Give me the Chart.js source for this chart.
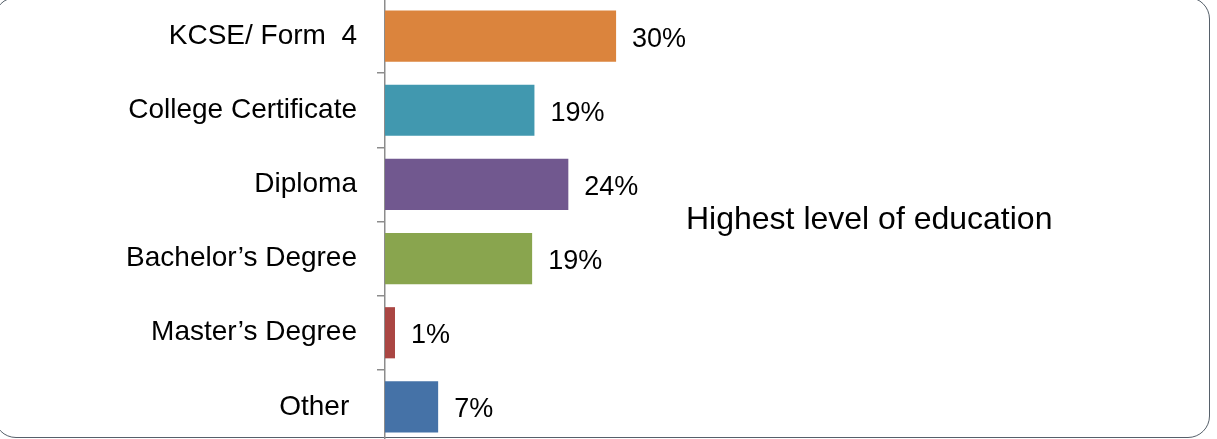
<!DOCTYPE html>
<html>
<head>
<meta charset="utf-8">
<script src="https://cdn.jsdelivr.net/npm/chart.js@4"></script>
<style>
  html, body { margin: 0; padding: 0; background: #fff; overflow: hidden; }
  body { width: 1217px; height: 439px; position: relative; }
  #frame {
    position: absolute; left: -6px; top: -3px; width: 1216px; height: 441px;
    border: 1.5px solid #56606a; border-radius: 22px; box-sizing: border-box;
  }
  #wrap { position: absolute; left: 0; top: -1px; width: 1217px; height: 445px; }
</style>
</head>
<body>
<div id="frame"></div>
<div id="wrap"><canvas id="chart"></canvas></div>
<script>
const CATEGORIES = [
  'KCSE/ Form  4',
  'College Certificate',
  'Diploma',
  'Bachelor\u2019s Degree',
  'Master\u2019s Degree',
  'Other ',
];
const SERIES_NAME = 'Highest level of education';
const PERCENT = [30, 19.4, 23.8, 19.1, 1.3, 6.9];
const BAR_COLORS = ['#DB843D', '#4198AF', '#71588F', '#89A54E', '#AA4643', '#4572A7'];

const FONT = '"Liberation Sans", Arial, sans-serif';

// value labels to the right of each bar
const valueLabels = {
  id: 'valueLabels',
  afterDatasetsDraw(chart) {
    const { ctx } = chart;
    const meta = chart.getDatasetMeta(0);
    ctx.save();
    ctx.font = '27px ' + FONT;
    ctx.fillStyle = '#000';
    ctx.textAlign = 'left';
    ctx.textBaseline = 'middle';
    meta.data.forEach((bar, i) => {
      ctx.fillText(Math.round(PERCENT[i]) + '%', bar.x + 16, bar.y + 3);
    });
    ctx.restore();
  },
};

// series name shown on the right, like the original legend
const seriesName = {
  id: 'seriesName',
  afterDraw(chart) {
    const { ctx, chartArea } = chart;
    ctx.save();
    ctx.font = '32px ' + FONT;
    ctx.fillStyle = '#000';
    ctx.textAlign = 'left';
    ctx.textBaseline = 'middle';
    ctx.fillText(chart.data.datasets[0].label, chartArea.right + 26, (chartArea.top + chartArea.bottom) / 2 - 1);
    ctx.restore();
  },
};

new Chart(document.getElementById('chart'), {
  type: 'bar',
  data: {
    labels: CATEGORIES,
    datasets: [
      {
        label: SERIES_NAME,
        data: PERCENT,
        backgroundColor: BAR_COLORS,
        borderWidth: 0,
        barPercentage: 0.69,
        categoryPercentage: 1,
      },
    ],
  },
  options: {
    indexAxis: 'y',
    responsive: true,
    maintainAspectRatio: false,
    animation: false,
    layout: { padding: { left: 0, right: 557, top: 0, bottom: 0 } },
    plugins: {
      legend: { display: false },
      tooltip: { enabled: false },
    },
    scales: {
      x: {
        display: false,
        min: 0,
        max: 35.7,
      },
      y: {
        afterFit(scale) {
          scale.width = 385;
          scale.paddingTop = 0;
          scale.paddingBottom = 0;
        },
        border: { display: true, color: '#8c8c8c', width: 1.5 },
        grid: {
          drawOnChartArea: false,
          drawTicks: true,
          tickLength: 8,
          color: '#8c8c8c',
          lineWidth: 1.5,
        },
        ticks: {
          color: '#000',
          padding: 20,
          font: { family: FONT, size: 28 },
        },
      },
    },
  },
  plugins: [valueLabels, seriesName],
});
</script>
</body>
</html>
